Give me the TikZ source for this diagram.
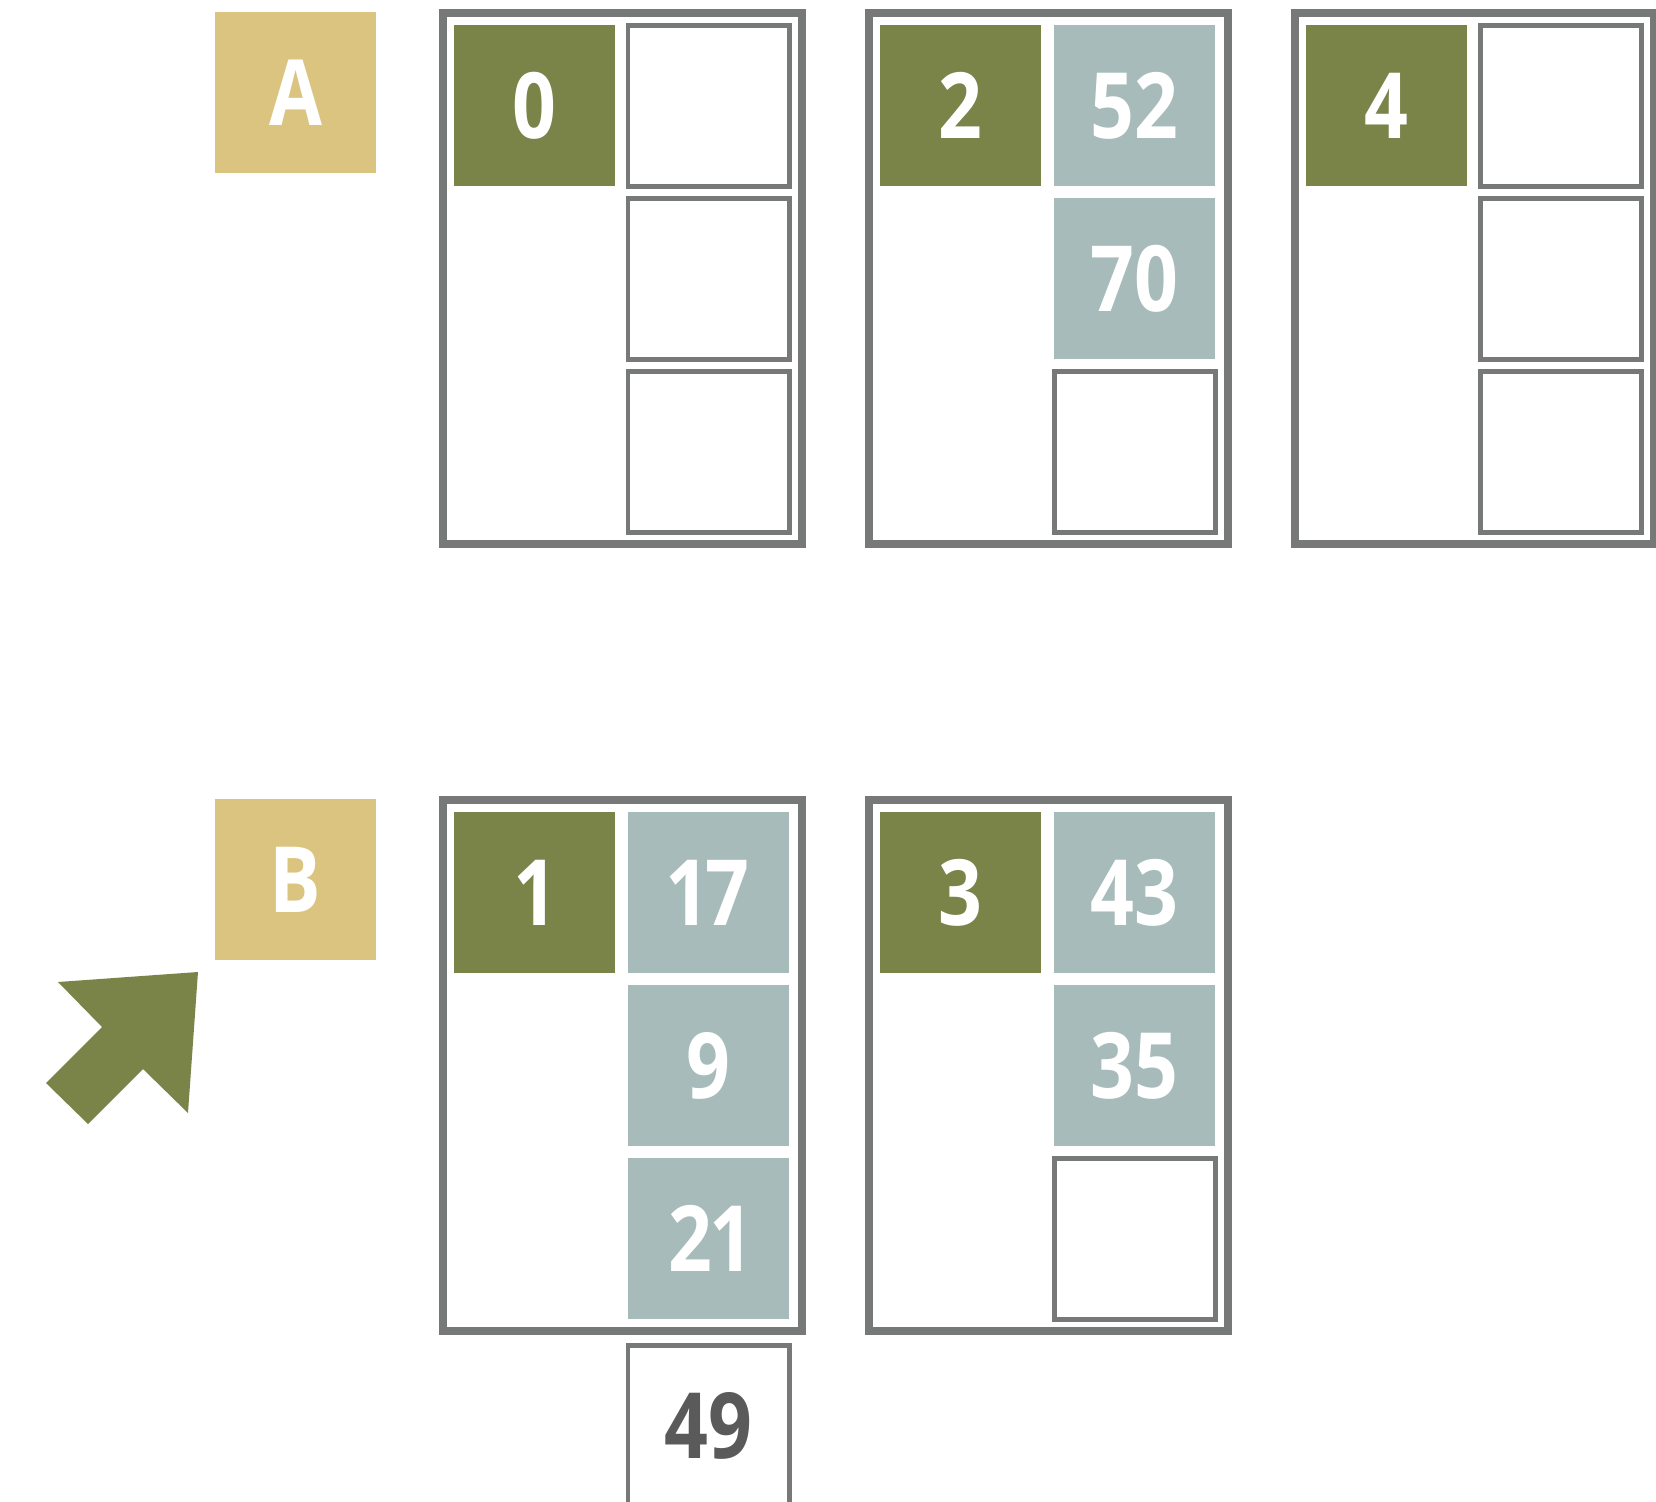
\documentclass[tikz,border=0pt]{standalone}
\usepackage{fontspec}
\setmainfont{Open Sans}[Numbers={Lining,Proportional}, FakeStretch=0.84]
\definecolor{cgreen}{HTML}{7A8449}
\definecolor{ctan}{HTML}{DAC47F}
\definecolor{cblue}{HTML}{A7BBBB}
\definecolor{cgray}{HTML}{777978}
\definecolor{cdark}{HTML}{5A5A5A}
\begin{document}
\begin{tikzpicture}[x=0.01cm,y=-0.01cm,
  cell/.style={minimum width=1.61cm, minimum height=1.61cm, inner sep=0pt, outer sep=0pt,
    anchor=north west, font=\fontsize{26}{30}\selectfont\bfseries, text=white},
  keycell/.style={cell, fill=cgreen},
  valcell/.style={cell, fill=cblue},
  slotcell/.style={cell, draw=cgray, line width=1.42pt},
  tagcell/.style={cell, fill=ctan},
  bucket/.style={draw=cgray, line width=2.27pt, minimum width=3.59cm, minimum height=5.31cm,
    inner sep=0pt, outer sep=0pt, anchor=north west}]
\useasboundingbox (0,0) rectangle (1656,1502);

% labels
\node[tagcell] (tA) at (215,12) {A};
\node[tagcell] (tB) at (215,799) {B};

% top row buckets
\node[bucket] (b0) at (443,13) {};
\node[keycell] (k0) at (454,25) {0};
\node[slotcell] (s00) at (628,25) {};
\node[slotcell] (s01) at (628,198) {};
\node[slotcell] (s02) at (628,371) {};

\node[bucket] (b2) at (869,13) {};
\node[keycell] (k2) at (880,25) {2};
\node[valcell] (v20) at (1054,25) {52};
\node[valcell] (v21) at (1054,198) {70};
\node[slotcell] (s22) at (1054,371) {};

\node[bucket] (b4) at (1295,13) {};
\node[keycell] (k4) at (1306,25) {4};
\node[slotcell] (s40) at (1480,25) {};
\node[slotcell] (s41) at (1480,198) {};
\node[slotcell] (s42) at (1480,371) {};

% bottom row buckets
\node[bucket] (b1) at (443,800) {};
\node[keycell] (k1) at (454,812) {1};
\node[valcell] (v10) at (628,812) {17};
\node[valcell] (v11) at (628,985) {9};
\node[valcell] (v12) at (628,1158) {21};
\node[slotcell, text=cdark] (ov) at (628,1345) {49};

\node[bucket] (b3) at (869,800) {};
\node[keycell] (k3) at (880,812) {3};
\node[valcell] (v30) at (1054,812) {43};
\node[valcell] (v31) at (1054,985) {35};
\node[slotcell] (s32) at (1054,1158) {};

% pointer arrow
\fill[cgreen] (198,972) -- (58,982) -- (102,1027) -- (46,1083) -- (88,1124)
  -- (143,1069) -- (188,1113) -- cycle;
\end{tikzpicture}
\end{document}
